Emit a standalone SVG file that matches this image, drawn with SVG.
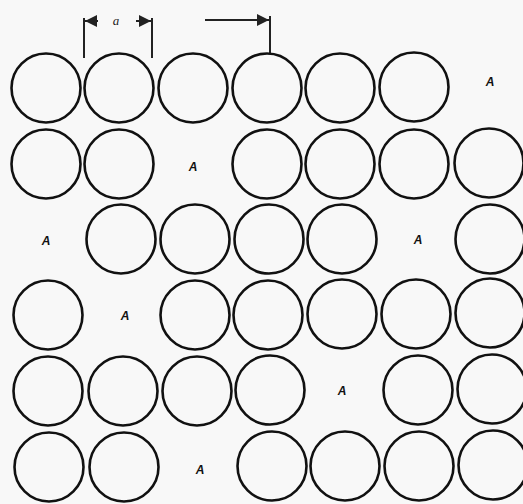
<svg xmlns="http://www.w3.org/2000/svg" width="523" height="504" viewBox="0 0 523 504">
<defs>
<style>
.c{fill:none;stroke:#111;stroke-width:2.6}
.a{font-family:"Liberation Sans",Arial,sans-serif;font-weight:bold;font-style:italic;font-size:12px;fill:#111;text-anchor:middle}
.d{stroke:#222;stroke-width:2;fill:none}
.t{font-family:"Liberation Serif","Times New Roman",serif;font-style:italic;font-size:13px;fill:#222;text-anchor:middle}
</style>
<marker id="ah" viewBox="0 0 10 10" refX="10" refY="5" markerWidth="6" markerHeight="6" orient="auto-start-reverse"><path d="M0,0L10,5L0,10z" fill="#222"/></marker>
</defs>
<rect width="523" height="504" fill="#f8f8f8"/>
<g id="dimensions">
<line class="d" x1="84" y1="18" x2="84" y2="58"/>
<line class="d" x1="152" y1="18" x2="152" y2="58"/>
<line class="d" x1="98" y1="21" x2="85" y2="21" marker-end="url(#ah)"/>
<line class="d" x1="136" y1="21" x2="151" y2="21" marker-end="url(#ah)"/>
<text class="t" x="116" y="25">a</text>
<line class="d" x1="205" y1="20" x2="269" y2="20" marker-end="url(#ah)"/>
<line class="d" x1="270" y1="16" x2="270" y2="54"/>
</g>
<g id="connectors"></g>
<g id="row1">
<circle id="n11" class="c" cx="46" cy="88" r="34.5"/>
<circle id="n12" class="c" cx="119" cy="88" r="34.5"/>
<circle id="n13" class="c" cx="193" cy="88" r="34.5"/>
<circle id="n14" class="c" cx="267" cy="88" r="34.5"/>
<circle id="n15" class="c" cx="340" cy="88" r="34.5"/>
<circle id="n16" class="c" cx="414" cy="87" r="34.5"/>
<text id="n17" class="a" x="490" y="86">A</text>
</g>
<g id="row2">
<circle id="n21" class="c" cx="46" cy="164" r="34.5"/>
<circle id="n22" class="c" cx="119" cy="164" r="34.5"/>
<text id="n23" class="a" x="193" y="171">A</text>
<circle id="n24" class="c" cx="267" cy="164" r="34.5"/>
<circle id="n25" class="c" cx="340" cy="164" r="34.5"/>
<circle id="n26" class="c" cx="414" cy="164" r="34.5"/>
<circle id="n27" class="c" cx="489" cy="163" r="34.5"/>
</g>
<g id="row3">
<text id="n31" class="a" x="46" y="245">A</text>
<circle id="n32" class="c" cx="121" cy="239" r="34.5"/>
<circle id="n33" class="c" cx="195" cy="239" r="34.5"/>
<circle id="n34" class="c" cx="269" cy="239" r="34.5"/>
<circle id="n35" class="c" cx="342" cy="239" r="34.5"/>
<text id="n36" class="a" x="418" y="244">A</text>
<circle id="n37" class="c" cx="490" cy="239" r="34.5"/>
</g>
<g id="row4">
<circle id="n41" class="c" cx="48" cy="315" r="34.5"/>
<text id="n42" class="a" x="125" y="320">A</text>
<circle id="n43" class="c" cx="195" cy="315" r="34.5"/>
<circle id="n44" class="c" cx="268" cy="315" r="34.5"/>
<circle id="n45" class="c" cx="342" cy="314" r="34.5"/>
<circle id="n46" class="c" cx="416" cy="314" r="34.5"/>
<circle id="n47" class="c" cx="490" cy="313" r="34.5"/>
</g>
<g id="row5">
<circle id="n51" class="c" cx="48" cy="391" r="34.5"/>
<circle id="n52" class="c" cx="123" cy="391" r="34.5"/>
<circle id="n53" class="c" cx="197" cy="391" r="34.5"/>
<circle id="n54" class="c" cx="270" cy="390" r="34.5"/>
<text id="n55" class="a" x="342" y="395">A</text>
<circle id="n56" class="c" cx="418" cy="390" r="34.5"/>
<circle id="n57" class="c" cx="492" cy="389" r="34.5"/>
</g>
<g id="row6">
<circle id="n61" class="c" cx="49" cy="467" r="34.5"/>
<circle id="n62" class="c" cx="124" cy="467" r="34.5"/>
<text id="n63" class="a" x="200" y="474">A</text>
<circle id="n64" class="c" cx="272" cy="466" r="34.5"/>
<circle id="n65" class="c" cx="345" cy="466" r="34.5"/>
<circle id="n66" class="c" cx="419" cy="466" r="34.5"/>
<circle id="n67" class="c" cx="493" cy="465" r="34.5"/>
</g>
</svg>
